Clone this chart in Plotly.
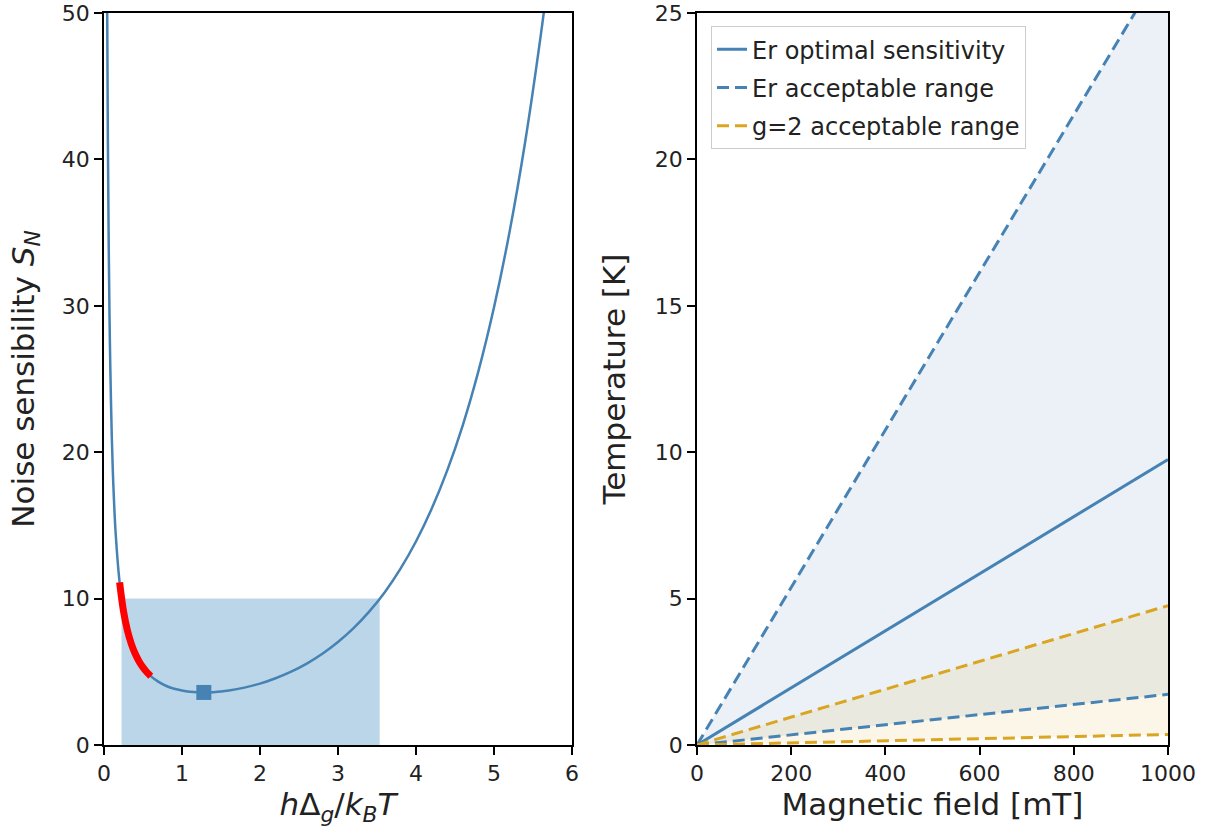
import plotly.graph_objects as go

# ---------------- data ----------------
# left panel: noise sensitivity curve
curve_x = [0.03, 0.04, 0.05, 0.06, 0.07, 0.08, 0.10, 0.12, 0.15, 0.20, 0.25, 0.30,
           0.40, 0.50, 0.60, 0.70, 0.80, 0.90, 1.00, 1.10, 1.20, 1.30, 1.40, 1.50,
           1.60, 1.80, 2.00, 2.20, 2.40, 2.60, 2.80, 3.00, 3.20, 3.40, 3.60, 3.80,
           4.00, 4.20, 4.40, 4.60, 4.80, 5.00, 5.20, 5.40, 5.60, 5.70]
curve_y = [67.68, 51.02, 41.03, 34.36, 29.61, 26.04, 21.05, 17.73, 14.41, 11.11, 9.14, 7.83,
           6.23, 5.30, 4.70, 4.31, 4.03, 3.84, 3.72, 3.64, 3.60, 3.59, 3.61, 3.65,
           3.72, 3.92, 4.19, 4.56, 5.01, 5.56, 6.23, 7.03, 7.98, 9.11, 10.44, 12.03,
           13.90, 16.12, 18.74, 21.84, 25.52, 29.88, 35.05, 41.19, 48.47, 52.61]
# red highlighted segment
red_x = [0.20, 0.25, 0.30, 0.35, 0.40, 0.45, 0.50, 0.55, 0.60]
red_y = [11.11, 9.14, 7.83, 6.91, 6.23, 5.71, 5.30, 4.97, 4.70]
# optimum marker
opt_x = [1.28]
opt_y = [3.59]
# acceptable window (S_N < 10)
window_x = [0.225, 3.535]
window_y = [0, 10]

# right panel: temperature vs magnetic field (straight lines from origin)
field = [0, 1000]
er_optimal = [0, 9.75]
er_upper = [0, 26.9]
er_lower = [0, 1.73]
g2_upper = [0, 4.76]
g2_lower = [0, 0.36]

BLUE = "#4682B4"
GOLD = "#DAA520"
FONT = "DejaVu Sans, sans-serif"
DASH = "12px,6px"

fig = go.Figure()

# ---------------- left panel ----------------
fig.add_shape(type="rect", xref="x", yref="y",
              x0=window_x[0], x1=window_x[1], y0=window_y[0], y1=window_y[1],
              fillcolor="rgba(31,119,180,0.3)", line=dict(width=0), layer="below")
fig.add_trace(go.Scatter(x=curve_x, y=curve_y, mode="lines", line=dict(color=BLUE, width=2.5, shape="spline"),
                         showlegend=False, xaxis="x", yaxis="y"))
fig.add_trace(go.Scatter(x=red_x, y=red_y, mode="lines", line=dict(color="#FF0000", width=7, shape="spline"),
                         showlegend=False, xaxis="x", yaxis="y"))
fig.add_trace(go.Scatter(x=opt_x, y=opt_y, mode="markers",
                         marker=dict(symbol="square", size=15, color=BLUE),
                         showlegend=False, xaxis="x", yaxis="y"))

# ---------------- right panel ----------------
# fills
fig.add_trace(go.Scatter(x=field, y=er_lower, mode="lines", line=dict(width=0), showlegend=False,
                         hoverinfo="skip", xaxis="x2", yaxis="y2"))
fig.add_trace(go.Scatter(x=field, y=er_upper, mode="lines", line=dict(width=0), fill="tonexty",
                         fillcolor="rgba(70,130,180,0.11)", showlegend=False, hoverinfo="skip",
                         xaxis="x2", yaxis="y2"))
fig.add_trace(go.Scatter(x=field, y=g2_lower, mode="lines", line=dict(width=0), showlegend=False,
                         hoverinfo="skip", xaxis="x2", yaxis="y2"))
fig.add_trace(go.Scatter(x=field, y=g2_upper, mode="lines", line=dict(width=0), fill="tonexty",
                         fillcolor="rgba(218,165,32,0.1)", showlegend=False, hoverinfo="skip",
                         xaxis="x2", yaxis="y2"))
# lines
fig.add_trace(go.Scatter(x=field, y=er_optimal, mode="lines", name="Er optimal sensitivity",
                         legendgroup="a", legendrank=1,
                         line=dict(color=BLUE, width=3), xaxis="x2", yaxis="y2"))
fig.add_trace(go.Scatter(x=field, y=er_upper, mode="lines", name="Er acceptable range",
                         legendgroup="b", legendrank=2,
                         line=dict(color=BLUE, width=3, dash=DASH), xaxis="x2", yaxis="y2"))
fig.add_trace(go.Scatter(x=field, y=er_lower, mode="lines", name="Er acceptable range",
                         legendgroup="b", line=dict(color=BLUE, width=3, dash=DASH), showlegend=False,
                         xaxis="x2", yaxis="y2"))
fig.add_trace(go.Scatter(x=field, y=g2_upper, mode="lines", name="g=2 acceptable range",
                         legendgroup="c", legendrank=3,
                         line=dict(color=GOLD, width=3, dash=DASH), xaxis="x2", yaxis="y2"))
fig.add_trace(go.Scatter(x=field, y=g2_lower, mode="lines", name="g=2 acceptable range",
                         legendgroup="c", line=dict(color=GOLD, width=3, dash=DASH), showlegend=False,
                         xaxis="x2", yaxis="y2"))

axis_common = dict(showline=True, mirror=True, linecolor="black", linewidth=1.5,
                   ticks="outside", ticklen=8, tickwidth=1.5, tickcolor="black", automargin=False,
                   showgrid=False, zeroline=False, tickfont=dict(size=22, color="#222222", family=FONT))
title_font = dict(size=31, color="#222222", family=FONT)

fig.update_layout(
    width=1209, height=834,
    margin=dict(l=104, r=41, t=13, b=89),
    paper_bgcolor="white", plot_bgcolor="white",
    font=dict(family=FONT, color="#222222"),
    xaxis=dict(domain=[0, 0.4398], range=[0, 6], tickvals=[0, 1, 2, 3, 4, 5, 6],
               title=dict(text="<i>h</i>Δ<sub><i>g</i></sub>/<i>k</i><sub><i>B</i></sub><i>T</i>",
                          font=title_font, standoff=6), **axis_common),
    yaxis=dict(domain=[0, 1], range=[0, 50], tickvals=[0, 10, 20, 30, 40, 50],
               title=dict(text="Noise sensibility <i>S</i><sub><i>N</i></sub>", font=title_font, standoff=18),
               **axis_common),
    xaxis2=dict(domain=[0.5573, 1], range=[0, 1000], tickvals=[0, 200, 400, 600, 800, 1000],
                anchor="y2", title=dict(text="Magnetic field [mT]", font=title_font, standoff=6),
                **axis_common),
    yaxis2=dict(domain=[0, 1], range=[0, 25], tickvals=[0, 5, 10, 15, 20, 25], anchor="x2",
                title=dict(text="Temperature [K]", font=title_font, standoff=20), **axis_common),
    legend=dict(x=0.5705, y=0.982, xanchor="left", yanchor="top", traceorder="grouped",
                tracegroupgap=4,
                bgcolor="rgba(255,255,255,0.8)", bordercolor="#CCCCCC", borderwidth=1,
                font=dict(size=24, color="#222222", family=FONT)),
)

fig.write_html("out.html", config={"displayModeBar": False},
               post_script="document.body.style.margin='0';")
